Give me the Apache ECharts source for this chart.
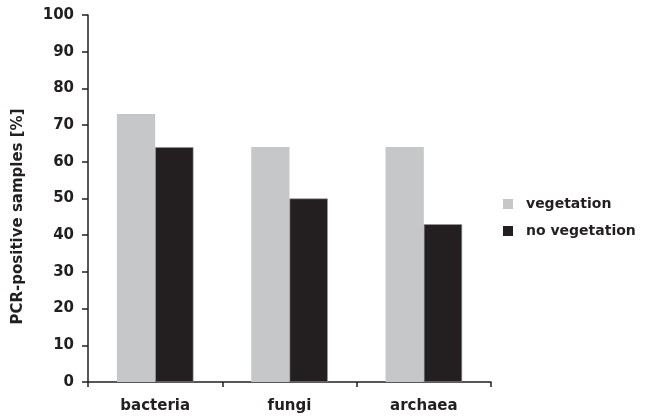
<!DOCTYPE html>
<html><head><meta charset="utf-8">
<script src="https://cdn.jsdelivr.net/npm/echarts@6/dist/echarts.min.js"></script>
<style>html,body{margin:0;padding:0;background:#fff}#c{width:654px;height:420px}</style>
</head><body><div id="c"></div>
<script>
var categories = ['bacteria', 'fungi', 'archaea'];
var vegetation = [73, 64, 64];
var noVegetation = [64, 50, 43];
var yTicks = [0, 10, 20, 30, 40, 50, 60, 70, 80, 90, 100];
var FONT = 'DejaVu Sans';
var INK = '#231f20';
var chart = echarts.init(document.getElementById('c'));
chart.setOption({
  animation: false,
  backgroundColor: '#fff',
  grid: { left: 88, right: 163, top: 15, bottom: 38, containLabel: false },
  legend: {
    orient: 'vertical', left: 503, top: 197, padding: 0,
    itemWidth: 10, itemHeight: 10, itemGap: 13,
    icon: 'rect',
    textStyle: { fontFamily: FONT, fontWeight: 'bold', fontSize: 14, color: INK, padding: [0, 0, 0, 8] },
    data: [
      { name: 'vegetation', itemStyle: { color: '#c6c7c9', borderWidth: 0 } },
      { name: 'no vegetation', itemStyle: { color: INK, borderWidth: 0 } }
    ]
  },
  xAxis: {
    type: 'category', data: categories,
    axisLine: { lineStyle: { color: INK, width: 1.5 } },
    axisTick: { show: true, length: 5, lineStyle: { color: INK, width: 1.5 } },
    axisLabel: { fontFamily: FONT, fontWeight: 'bold', fontSize: 15, color: INK, margin: 17 }
  },
  yAxis: {
    type: 'value', min: yTicks[0], max: yTicks[yTicks.length - 1], interval: 10,
    name: 'PCR-positive samples [%]', nameLocation: 'middle', nameGap: 62,
    nameTextStyle: { fontFamily: FONT, fontWeight: 'bold', fontSize: 15, color: INK, padding: [0, 36, 0, 0] },
    splitLine: { show: false },
    axisLine: { show: true, lineStyle: { color: INK, width: 1.5 } },
    axisTick: { show: true, length: 6, lineStyle: { color: INK, width: 1.5 } },
    axisLabel: { fontFamily: FONT, fontWeight: 'bold', fontSize: 15, color: INK, margin: 14 }
  },
  series: [
    { name: 'vegetation', type: 'bar', data: vegetation, barGap: '0%', barCategoryGap: '43%',
      itemStyle: { color: '#c6c7c9' } },
    { name: 'no vegetation', type: 'bar', data: noVegetation, barGap: '0%', barCategoryGap: '43%',
      itemStyle: { color: INK, borderColor: '#9a9a9a', borderWidth: 0.6 } }
  ]
});
</script></body></html>
